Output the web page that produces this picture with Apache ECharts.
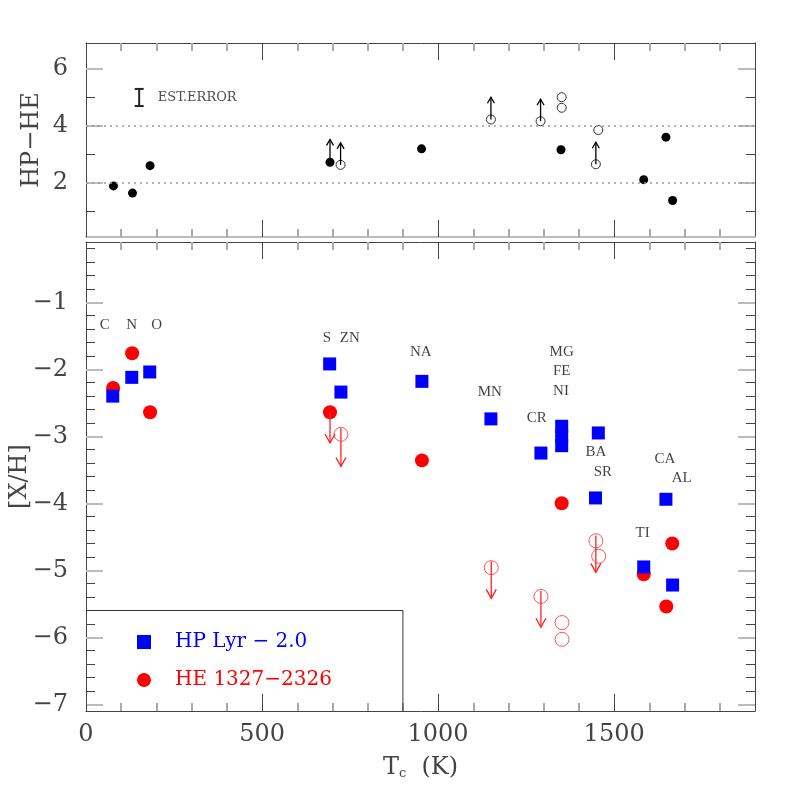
<!DOCTYPE html>
<html><head><meta charset="utf-8">
<script src="https://cdn.jsdelivr.net/npm/echarts@6/dist/echarts.min.js"></script>
<style>html,body{margin:0;padding:0;background:#fff}#c{width:797px;height:797px}</style>
</head><body><div id="c"></div>
<script>
// ---------- tick values ----------
var xMajor = [0, 500, 1000, 1500];
var xMinor = [100, 200, 300, 400, 600, 700, 800, 900, 1100, 1200, 1300, 1400, 1600, 1700, 1800];
var topYMajor = [2, 4, 6];
var topYMinor = [1, 3, 5];
var botYMajor = [-7, -6, -5, -4, -3, -2, -1];
var botYMinor = [];
for (var k = -35; k <= -1; k++) { if (k % 5 !== 0) botYMinor.push(k / 5); }

// ---------- top panel (HP - HE) ----------
var topFilledX = [78, 132, 182, 693, 953, 1349, 1584, 1647, 1666];
var topFilledY = [1.89, 1.64, 2.60, 2.72, 3.19, 3.16, 2.11, 3.60, 1.38];
var topOpenX = [723, 1150, 1291, 1351, 1351, 1448, 1455];
var topOpenY = [2.63, 4.22, 4.16, 4.63, 5.00, 2.65, 3.85];
var topArrowX = [693, 723, 1150, 1291, 1448];
var topArrowFrom = [2.72, 2.63, 4.22, 4.16, 2.65];
var topArrowTo = [3.52, 3.40, 5.00, 4.93, 3.42];
var topRefLines = [2, 4];
var errBarX = [151];
var errBarLow = [4.69];
var errBarHigh = [5.29];
var errTextX = [204];
var errTextY = [4.99];
var errText = ['EST.ERROR'];

// ---------- bottom panel ([X/H]) ----------
var hpX = [76, 130, 181, 692, 724, 954, 1150, 1292, 1351, 1351, 1351, 1455, 1447, 1647, 1584, 1666];
var hpY = [-2.40, -2.12, -2.04, -1.92, -2.34, -2.18, -2.74, -3.25, -2.85, -3.00, -3.14, -2.95, -3.92, -3.94, -4.95, -5.22];
var heX = [77, 131, 182, 693, 954, 1351, 1648, 1665, 1584];
var heY = [-2.28, -1.76, -2.64, -2.64, -3.36, -4.00, -5.54, -4.60, -5.06];
var heOpenX = [724, 1151, 1292, 1352, 1352, 1448, 1456];
var heOpenY = [-2.97, -4.96, -5.39, -5.78, -6.03, -4.56, -4.79];
var heArrowX = [693, 724, 1151, 1292, 1448];
var heArrowFrom = [-2.64, -2.88, -4.87, -5.31, -4.48];
var heArrowTo = [-3.10, -3.45, -5.42, -5.85, -5.03];
var elemNames = ['C', 'N', 'O', 'S', 'ZN', 'NA', 'MG', 'FE', 'NI', 'MN', 'CR', 'BA', 'SR', 'CA', 'AL', 'TI'];
var elemX = [53, 130, 201, 684, 749, 951, 1351, 1351, 1349, 1147, 1280, 1448, 1468, 1644, 1692, 1581];
var elemY = [-1.34, -1.34, -1.34, -1.54, -1.54, -1.74, -1.74, -2.03, -2.32, -2.34, -2.73, -3.23, -3.53, -3.34, -3.63, -4.44];
var legendBoxX = [0, 900, 900];
var legendBoxY = [-5.6, -5.6, -7.1];

var HP_NAME = 'HP Lyr \u2212 2.0';
var HE_NAME = 'HE 1327\u22122326';
var FONT = 'DejaVu Serif';
var GRAY = '#444';

function zip(a, b) { return a.map(function (v, i) { return [v, b[i]]; }); }
function zip3(a, b, c) { return a.map(function (v, i) { return [v, b[i], c[i]]; }); }
function fmtNum(v) { return v < 0 ? '\u2212' + Math.abs(v) : String(v); }

function xAx(grid, pos, vals, len, color, width, showLine, labels) {
  var o = {
    type: 'value', gridIndex: grid, position: pos, min: 0, max: 1900,
    splitLine: { show: false },
    axisLine: { show: showLine, onZero: false, lineStyle: { color: pos === 'bottom' && grid === 0 ? '#bbb' : GRAY, width: pos === 'bottom' && grid === 0 ? 2 : 1 } },
    axisTick: { show: true, inside: true, length: len, customValues: vals, lineStyle: { color: color, width: width } },
    axisLabel: { show: false }
  };
  if (labels) {
    o.axisLabel = { show: true, customValues: xMajor, margin: 12, fontFamily: FONT, fontSize: 24, color: GRAY, formatter: fmtNum };
    o.name = 'T{s|c}  (K)';
    o.nameLocation = 'middle';
    o.nameGap = 44;
    o.nameMoveOverlap = false;
    o.nameTextStyle = { fontFamily: FONT, fontSize: 24, color: GRAY, rich: { s: { fontFamily: FONT, fontSize: 13, color: GRAY, verticalAlign: 'bottom', padding: [12, 0, 0, 0] } } };
  }
  return o;
}
function yAx(grid, pos, min, max, vals, len, color, width, showLine, labels, name, gap, labelVals) {
  var o = {
    type: 'value', gridIndex: grid, position: pos, min: min, max: max,
    splitLine: { show: false },
    axisLine: { show: showLine, onZero: false, lineStyle: { color: GRAY, width: 1 } },
    axisTick: { show: true, inside: true, length: len, customValues: vals, lineStyle: { color: color, width: width } },
    axisLabel: { show: false }
  };
  if (labels) {
    o.axisLabel = { show: true, customValues: labelVals, margin: 18, fontFamily: FONT, fontSize: 24, color: GRAY, formatter: fmtNum };
    o.name = name;
    o.nameLocation = 'middle';
    o.nameRotate = 90;
    o.nameGap = gap;
    o.nameMoveOverlap = false;
    o.nameTextStyle = { fontFamily: FONT, fontSize: 24, color: GRAY };
  }
  return o;
}

var xAxes = [
  xAx(0, 'bottom', xMajor, 17, GRAY, 1, true, false),
  xAx(0, 'bottom', xMinor, 8, '#aaa', 2, false, false),
  xAx(0, 'top', xMajor, 17, GRAY, 1, true, false),
  xAx(0, 'top', xMinor, 8, '#aaa', 2, false, false),
  xAx(1, 'bottom', xMajor, 17, GRAY, 1, true, true),
  xAx(1, 'bottom', xMinor, 8, '#aaa', 2, false, false),
  xAx(1, 'top', xMajor, 17, GRAY, 1, true, false),
  xAx(1, 'top', xMinor, 8, '#aaa', 2, false, false)
];
var yAxes = [
  yAx(0, 'left', 0.1, 6.9, topYMajor, 17, '#bbb', 2, true, true, 'HP\u2212HE', 42, topYMajor),
  yAx(0, 'left', 0.1, 6.9, topYMinor, 9, GRAY, 1, false, false),
  yAx(0, 'right', 0.1, 6.9, topYMajor, 17, '#bbb', 2, true, false),
  yAx(0, 'right', 0.1, 6.9, topYMinor, 9, GRAY, 1, false, false),
  yAx(1, 'left', -7.1, -0.1, botYMajor, 17, '#bbb', 2, true, true, '[X/H]', 54, botYMajor),
  yAx(1, 'left', -7.1, -0.1, botYMinor, 9, GRAY, 1, false, false),
  yAx(1, 'right', -7.1, -0.1, botYMajor, 17, '#bbb', 2, true, false),
  yAx(1, 'right', -7.1, -0.1, botYMinor, 9, GRAY, 1, false, false)
];

function arrowRender(headW, headH, color, lw) {
  return function (params, api) {
    var p0 = api.coord([api.value(0), api.value(1)]);
    var p1 = api.coord([api.value(0), api.value(2)]);
    var dir = p1[1] > p0[1] ? 1 : -1;
    return {
      type: 'group', children: [
        { type: 'line', shape: { x1: p0[0], y1: p0[1], x2: p1[0], y2: p1[1] }, style: { stroke: color, lineWidth: lw } },
        { type: 'polyline', shape: { points: [[p1[0] - headW, p1[1] - dir * headH], [p1[0], p1[1]], [p1[0] + headW, p1[1] - dir * headH]] }, style: { stroke: color, fill: null, lineWidth: lw } }
      ]
    };
  };
}
function errRender(params, api) {
  var p0 = api.coord([api.value(0), api.value(1)]);
  var p1 = api.coord([api.value(0), api.value(2)]);
  var w = 4.5;
  return {
    type: 'group', children: [
      { type: 'line', shape: { x1: p0[0], y1: p0[1], x2: p1[0], y2: p1[1] }, style: { stroke: '#222', lineWidth: 2 } },
      { type: 'line', shape: { x1: p0[0] - w, y1: p0[1], x2: p0[0] + w, y2: p0[1] }, style: { stroke: '#222', lineWidth: 2 } },
      { type: 'line', shape: { x1: p1[0] - w, y1: p1[1], x2: p1[0] + w, y2: p1[1] }, style: { stroke: '#222', lineWidth: 2 } }
    ]
  };
}

var series = [
  // top panel
  {
    type: 'scatter', name: 'diffFilled', xAxisIndex: 0, yAxisIndex: 0, symbol: 'circle', symbolSize: 9,
    itemStyle: { color: '#000', opacity: 1 }, data: zip(topFilledX, topFilledY), z: 3,
    markLine: {
      silent: true, symbol: 'none', label: { show: false },
      lineStyle: { color: '#999', type: [2, 4], width: 1.5 },
      data: topRefLines.map(function (v) { return { yAxis: v }; })
    }
  },
  {
    type: 'scatter', name: 'diffOpen', xAxisIndex: 0, yAxisIndex: 0, symbol: 'circle', symbolSize: 9,
    itemStyle: { color: '#fff', borderColor: '#333', borderWidth: 1, opacity: 1 }, data: zip(topOpenX, topOpenY), z: 4
  },
  {
    type: 'custom', name: 'diffArrows', xAxisIndex: 0, yAxisIndex: 0, renderItem: arrowRender(3.5, 6, '#000', 1.3),
    data: zip3(topArrowX, topArrowFrom, topArrowTo), z: 5, clip: false
  },
  {
    type: 'custom', name: 'err', xAxisIndex: 0, yAxisIndex: 0, renderItem: errRender,
    data: zip3(errBarX, errBarLow, errBarHigh), z: 5
  },
  {
    type: 'scatter', name: 'errText', xAxisIndex: 0, yAxisIndex: 0, symbolSize: 0,
    data: errTextX.map(function (v, i) { return [v, errTextY[i], errText[i]]; }),
    label: { show: true, position: 'right', distance: 0, formatter: function (p) { return p.value[2]; }, fontFamily: FONT, fontSize: 13, color: '#222' }
  },
  // bottom panel
  {
    type: 'scatter', name: HE_NAME, xAxisIndex: 4, yAxisIndex: 4, symbol: 'circle', symbolSize: 14,
    itemStyle: { color: '#ff0000', opacity: 1 }, data: zip(heX, heY), z: 3
  },
  {
    type: 'scatter', name: 'heOpen', xAxisIndex: 4, yAxisIndex: 4, symbol: 'circle', symbolSize: 14,
    itemStyle: { color: 'rgba(255,255,255,0)', borderColor: '#ff5555', borderWidth: 1, opacity: 1 }, data: zip(heOpenX, heOpenY), z: 3
  },
  {
    type: 'custom', name: 'heArrows', xAxisIndex: 4, yAxisIndex: 4, renderItem: arrowRender(5, 9, '#ff2020', 1.3),
    data: zip3(heArrowX, heArrowFrom, heArrowTo), z: 4, clip: false
  },
  {
    type: 'scatter', name: HP_NAME, xAxisIndex: 4, yAxisIndex: 4, symbol: 'rect', symbolSize: 13,
    itemStyle: { color: '#0000ff', opacity: 1 }, data: zip(hpX, hpY), z: 6
  },
  {
    type: 'scatter', name: 'elemLabels', xAxisIndex: 4, yAxisIndex: 4, symbolSize: 0,
    data: elemNames.map(function (n, i) { return [elemX[i], elemY[i], n]; }),
    label: { show: true, position: 'inside', formatter: function (p) { return p.value[2]; }, fontFamily: 'Liberation Serif', fontSize: 15, color: '#111' }
  },
  {
    type: 'line', name: 'legendBox', xAxisIndex: 4, yAxisIndex: 4, symbol: 'none', silent: true,
    lineStyle: { color: '#333', width: 1 }, data: zip(legendBoxX, legendBoxY), z: 1
  }
];

var chart = echarts.init(document.getElementById('c'), null, { renderer: 'canvas' });
chart.setOption({
  animation: false,
  backgroundColor: '#fff',
  grid: [
    { left: 86, right: 42, top: 43, height: 194, outerBoundsMode: 'none', containLabel: false },
    { left: 86, right: 42, top: 242, height: 469, outerBoundsMode: 'none', containLabel: false }
  ],
  xAxis: xAxes,
  yAxis: yAxes,
  legend: {
    orient: 'vertical', left: 132, top: 627, itemGap: 18, itemWidth: 14, itemHeight: 14,
    selectedMode: false,
    textStyle: { fontFamily: FONT, fontSize: 20, padding: [0, 0, 0, 19] },
    data: [
      { name: HP_NAME, icon: 'rect', textStyle: { color: '#0000ff' } },
      { name: HE_NAME, icon: 'circle', textStyle: { color: '#ff0000' } }
    ]
  },
  series: series
});
</script></body></html>
